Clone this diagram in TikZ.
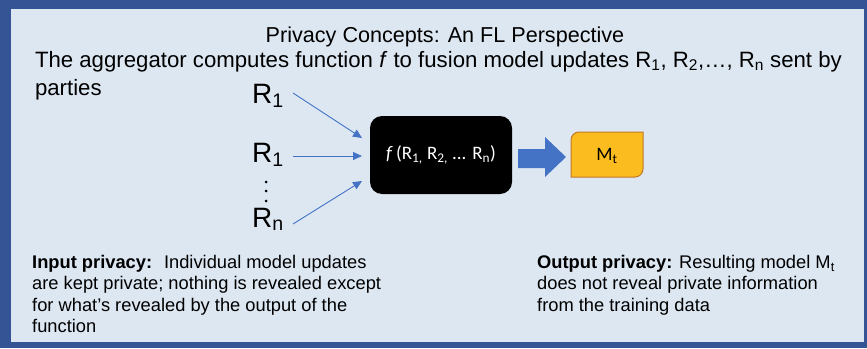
\documentclass[tikz,border=0pt]{standalone}
\usepackage{fontspec}
\setmainfont{Liberation Sans}
\newfontfamily\calib{Carlito}
\usetikzlibrary{arrows.meta}
\definecolor{frameblue}{RGB}{52,84,150}
\definecolor{panel}{RGB}{221,231,242}
\definecolor{arrowblue}{RGB}{68,114,196}
\definecolor{mtfill}{RGB}{250,188,30}
\definecolor{mtdraw}{RGB}{196,120,40}
\tikzset{
  txt/.style={inner sep=0pt, outer sep=0pt, anchor=base west},
  rlabel/.style={inner sep=0pt, anchor=base west, font=\fontsize{28}{30}\selectfont},
  thinarrow/.style={draw=arrowblue, line width=0.9pt, -{Triangle[length=9pt,width=8pt]}},
  funcbox/.style={fill=black, rounded corners=12pt, minimum width=142pt, minimum height=78pt, inner sep=0pt, text=white, font=\calib\fontsize{19}{22}\selectfont},
  para/.style={inner sep=0pt, anchor=north west, align=left, font=\fontsize{18.3}{21.3}\selectfont},
  dot/.style={fill=black, circle, inner sep=0pt, minimum size=3pt}
}
\begin{document}
\begin{tikzpicture}[x=1pt,y=-1pt]
\useasboundingbox (0,0) rectangle (867,348);
\fill[frameblue] (0,0) rectangle (867,348);
\fill[panel] (11,9) rectangle (864,342);

\node[anchor=base, inner sep=0pt, font=\fontsize{21.6}{24}\selectfont] (title) at (445,42) {Privacy Concepts: An FL Perspective};
\node[txt, font=\fontsize{22.2}{26}\selectfont] (desc) at (35,67) {The aggregator computes function \textit{f} to fusion model updates R\textsubscript{1}, R\textsubscript{2},\dots, R\textsubscript{n} sent by};
\node[txt, font=\fontsize{22.2}{26}\selectfont] (parties) at (35,95) {parties};

\node[rlabel] (r1) at (252,103) {R\textsubscript{1}};
\node[rlabel] (r2) at (252,162) {R\textsubscript{1}};
\node[dot] (d1) at (266,182) {};
\node[dot] (d2) at (266,191) {};
\node[dot] (d3) at (266,201) {};
\node[rlabel] (rn) at (252,227) {R\textsubscript{n}};

\node[funcbox] (f) at (441,155) {\textit{f}\,(R\textsubscript{1,} R\textsubscript{2,} ... R\textsubscript{n})};

\coordinate (t1) at (362,138);
\coordinate (t2) at (362,156);
\coordinate (t3) at (362,181);
\coordinate (s1) at (293,93);
\coordinate (s2) at (293,156);
\coordinate (s3) at (293,224);
\draw[thinarrow] (s1) -- (t1);
\draw[thinarrow] (s2) -- (t2);
\draw[thinarrow] (s3) -- (t3);

% big arrow from f to M_t
\fill[arrowblue] (518,149) -- (545,149) -- (545,137) -- (566,157) -- (545,177) -- (545,168) -- (518,168) -- cycle;

% M_t box
\draw[fill=mtfill, draw=mtdraw, line width=1pt] (579,132) -- (643,132) -- (643,169) arc[start angle=0, end angle=90, radius=8] -- (571,177) -- (571,140) arc[start angle=180, end angle=270, radius=8] -- cycle;
\node[inner sep=0pt, font=\calib\fontsize{19}{20}\selectfont] (mt) at (607,156) {M\textsubscript{t}};

\node[para] (inp) at (32,255) {\textbf{Input privacy:}~ Individual model updates\\are kept private; nothing is revealed except\\for what's revealed by the output of the\\function};
\node[para] (outp) at (537,255) {\textbf{Output privacy:} Resulting model M\textsubscript{t}\\does not reveal private information\\from the training data};
\end{tikzpicture}
\end{document}
